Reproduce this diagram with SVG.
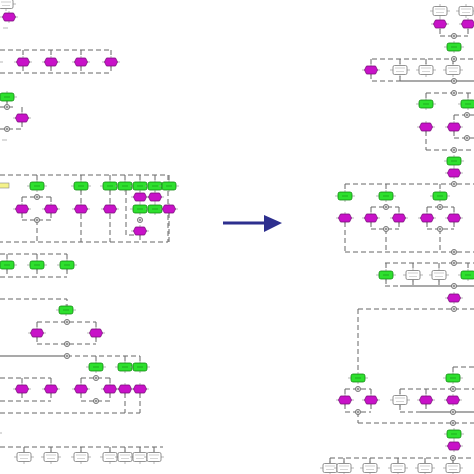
<svg xmlns="http://www.w3.org/2000/svg" width="474" height="474" viewBox="0 0 474 474">
<style>
.d{fill:none;stroke:#666;stroke-width:1;stroke-dasharray:5 3}
.s{fill:none;stroke:#555;stroke-width:1.2}
.st{stroke:#999;stroke-width:0.7}
</style>
<defs>
<g id="ev">
<line class="st" x1="-9" y1="0" x2="9" y2="0"/>
<line class="st" x1="0" y1="-6" x2="0" y2="6"/>
<path d="M-6.5,0 L-4.5,-4 L4.5,-4 L6.5,0 L4.5,4 L-4.5,4 Z" fill="#c812c8" stroke="#7a107a" stroke-width="0.8" stroke-linejoin="round"/>
</g>
<g id="fn">
<line class="st" x1="-10" y1="0" x2="10" y2="0"/>
<line class="st" x1="0" y1="-6" x2="0" y2="6"/>
<rect x="-7" y="-4" width="14" height="8" rx="2" fill="#2ee02e" stroke="#138a13" stroke-width="0.8"/>
<line x1="-3" y1="0" x2="3" y2="0" stroke="#137a13" stroke-width="0.5"/>
</g>
<g id="tk">
<line class="st" x1="-10" y1="0" x2="10" y2="0"/>
<line class="st" x1="0" y1="-7" x2="0" y2="7"/>
<rect x="-7" y="-4.5" width="14" height="9" rx="1.5" fill="#fff" stroke="#777" stroke-width="0.8"/>
<line x1="-5" y1="-2" x2="5" y2="-2" stroke="#999" stroke-width="0.5"/>
<line x1="-4" y1="1.5" x2="4" y2="1.5" stroke="#aaa" stroke-width="0.5"/>
</g>
<g id="cn">
<circle r="2.6" fill="#ddd" stroke="#666" stroke-width="0.8"/>
<circle r="0.9" fill="#777"/>
</g>
<g id="yb">
<rect x="-5" y="-2.5" width="10" height="5" fill="#f4f28a" stroke="#888" stroke-width="0.6"/>
</g>
</defs>
<rect width="474" height="474" fill="#fff"/>

<g id="connectors">
<!-- left top -->
<line class="st" x1="3" y1="28" x2="8" y2="28"/>
<path class="d" d="M0,50 H111 M23,50 V58 M51,50 V58 M81,50 V58 M111,50 V58 M0,73 H111 M23,66 V73 M51,66 V73 M81,66 V73 M111,66 V73"/>
<line class="st" x1="0" y1="62" x2="3" y2="62"/>
<path class="d" d="M0,107 H15 M7,101 V104 M22,107 V114 M0,129 H22 M22,122 V129"/>
<line class="st" x1="2" y1="140" x2="7" y2="140"/>
<!-- left middle block -->
<path class="d" d="M0,175 H168 V242 H0 M37,175 V182 M81,175 V182 M110,175 V182 M125,175 V182 M140,175 V182 M155,175 V182 M169,175 V182"/>
<path class="d" d="M22,197 H51 M22,197 V205 M51,197 V205 M22,220 H51 M22,213 V220 M51,213 V220 M37,220 V242 M81,190 V242 M110,190 V242 M126,190 V235 H134 M169,213 V242 M140,235 V242"/>
<path class="d" d="M0,254 H67 M7,254 V261 M37,254 V261 M67,254 V261 M0,277 H67 M7,269 V277 M37,269 V277 M67,269 V277"/>
<path class="d" d="M0,299 H67 V306 M37,322 H96 M37,322 V329 M96,322 V329 M37,344 H96 M37,337 V344 M96,337 V344"/>
<path class="s" d="M0,356 H67"/>
<path class="d" d="M67,356 H140 M96,356 V363 M125,356 V363 M140,356 V363"/>
<path class="d" d="M0,378 H51 M22,378 V385 M51,378 V385 M81,378 H110 M81,378 V385 M110,378 V385 M0,401 H51 M22,393 V401 M51,393 V401 M81,401 H110 M81,393 V401 M110,393 V401 M0,413 H140 M125,393 V413 M140,393 V413"/>
<line class="st" x1="0" y1="433" x2="2" y2="433"/>
<path class="d" d="M0,447 H163 M24,447 V452 M51,447 V452 M81,447 V452 M110,447 V452 M125,447 V452 M140,447 V452 M154,447 V452"/>
<!-- right -->
<path class="d" d="M440,36 H468 M440,29 V36 M468,29 V36"/>
<path class="d" d="M372,59 H474 M371,59 V66 M400,59 V66 M426,59 V66 M453,59 V66"/>
<path class="s" d="M400,81 H474"/>
<path class="d" d="M372,81 H400 M371,74 V81 M400,76 V81"/>
<path class="d" d="M426,93 H474 M426,93 V100 M468,93 V100 M454,115 H474 M454,115 V123 M454,138 H474 M454,131 V138 M426,131 V150 M426,150 H474"/>
<path class="d" d="M345,184 H474 M345,184 V192 M386,184 V192 M440,184 V192 M371,207 H399 M371,207 V214 M399,207 V214 M427,207 H454 M427,207 V214 M454,207 V214 M371,229 H399 M371,222 V229 M399,222 V229 M427,229 H454 M427,222 V229 M454,222 V229 M345,222 V252 M386,229 V252 M440,229 V252 M345,252 H474"/>
<path class="d" d="M385,263 H474 M386,263 V271 M413,263 V270 M439,263 V270 M468,263 V271"/>
<path class="s" d="M400,286 H474"/>
<path class="d" d="M385,286 H400 M386,279 V286 M413,280 V286 M439,280 V286"/>
<path class="d" d="M358,309 H474 M358,309 V373 M453,367 H474 M453,367 V373"/>
<path class="d" d="M345,389 H371 M345,389 V396 M371,389 V396 M400,389 H474 M400,389 V395 M426,389 V396 M345,412 H371 M345,404 V412 M371,404 V412 M358,412 V423 M358,423 H474"/>
<path class="s" d="M420,412 H474"/>
<path class="d" d="M400,412 H420 M400,405 V412 M426,404 V412"/>
<path class="d" d="M330,458 H474 M330,458 V463 M344,458 V463 M370,458 V463 M398,458 V463 M425,458 V463 M453,458 V463"/>
<!-- big arrow -->
<line x1="223" y1="223" x2="268" y2="223" stroke="#2d2f8e" stroke-width="3"/>
<polygon points="264,215 282,223 264,232" fill="#2d2f8e"/>
</g>

<!-- left nodes -->
<g id="L-t1"><use href="#tk" x="6" y="4"/></g>
<g id="L-e1"><use href="#ev" x="9" y="17"/></g>
<g id="L-e2"><use href="#ev" x="23" y="62"/></g>
<g id="L-e3"><use href="#ev" x="51" y="62"/></g>
<g id="L-e4"><use href="#ev" x="81" y="62"/></g>
<g id="L-e5"><use href="#ev" x="111" y="62"/></g>
<g id="L-f1"><use href="#fn" x="7" y="97"/></g>
<g id="L-c1"><use href="#cn" x="7" y="107"/></g>
<g id="L-e6"><use href="#ev" x="22" y="118"/></g>
<g id="L-c2"><use href="#cn" x="7" y="129"/></g>

<g id="L-y1"><use href="#yb" x="4" y="185.5"/></g>
<g id="L-f2"><use href="#fn" x="37" y="186"/></g>
<g id="L-f3"><use href="#fn" x="81" y="186"/></g>
<g id="L-f4"><use href="#fn" x="110" y="186"/></g>
<g id="L-f5"><use href="#fn" x="125" y="186"/></g>
<g id="L-f6"><use href="#fn" x="140" y="186"/></g>
<g id="L-f7"><use href="#fn" x="155" y="186"/></g>
<g id="L-f8"><use href="#fn" x="169" y="186"/></g>
<g id="L-c3"><use href="#cn" x="37" y="197"/></g>
<g id="L-e7"><use href="#ev" x="140" y="197"/></g>
<g id="L-e8"><use href="#ev" x="155" y="197"/></g>
<g id="L-e9"><use href="#ev" x="22" y="209"/></g>
<g id="L-e10"><use href="#ev" x="51" y="209"/></g>
<g id="L-e11"><use href="#ev" x="81" y="209"/></g>
<g id="L-e12"><use href="#ev" x="110" y="209"/></g>
<g id="L-f9"><use href="#fn" x="140" y="209"/></g>
<g id="L-f10"><use href="#fn" x="155" y="209"/></g>
<g id="L-e13"><use href="#ev" x="169" y="209"/></g>
<g id="L-c4"><use href="#cn" x="37" y="220"/></g>
<g id="L-c5"><use href="#cn" x="140" y="220"/></g>
<g id="L-e14"><use href="#ev" x="140" y="231"/></g>

<g id="L-f11"><use href="#fn" x="7" y="265"/></g>
<g id="L-f12"><use href="#fn" x="37" y="265"/></g>
<g id="L-f13"><use href="#fn" x="67" y="265"/></g>
<g id="L-f14"><use href="#fn" x="66" y="310"/></g>
<g id="L-c6"><use href="#cn" x="67" y="322"/></g>
<g id="L-e15"><use href="#ev" x="37" y="333"/></g>
<g id="L-e16"><use href="#ev" x="96" y="333"/></g>
<g id="L-c7"><use href="#cn" x="67" y="344"/></g>
<g id="L-c8"><use href="#cn" x="67" y="356"/></g>
<g id="L-f15"><use href="#fn" x="96" y="367"/></g>
<g id="L-f16"><use href="#fn" x="125" y="367"/></g>
<g id="L-f17"><use href="#fn" x="140" y="367"/></g>
<g id="L-c9"><use href="#cn" x="96" y="378"/></g>
<g id="L-e17"><use href="#ev" x="22" y="389"/></g>
<g id="L-e18"><use href="#ev" x="51" y="389"/></g>
<g id="L-e19"><use href="#ev" x="81" y="389"/></g>
<g id="L-e20"><use href="#ev" x="110" y="389"/></g>
<g id="L-e21"><use href="#ev" x="125" y="389"/></g>
<g id="L-e22"><use href="#ev" x="140" y="389"/></g>
<g id="L-c10"><use href="#cn" x="96" y="401"/></g>
<g id="L-t2"><use href="#tk" x="24" y="457"/></g>
<g id="L-t3"><use href="#tk" x="51" y="457"/></g>
<g id="L-t4"><use href="#tk" x="81" y="457"/></g>
<g id="L-t5"><use href="#tk" x="110" y="457"/></g>
<g id="L-t6"><use href="#tk" x="125" y="457"/></g>
<g id="L-t7"><use href="#tk" x="140" y="457"/></g>
<g id="L-t8"><use href="#tk" x="154" y="457"/></g>

<!-- right nodes -->
<g id="R-t1"><use href="#tk" x="440" y="11"/></g>
<g id="R-t2"><use href="#tk" x="466" y="11"/></g>
<g id="R-e1"><use href="#ev" x="440" y="24"/></g>
<g id="R-e2"><use href="#ev" x="468" y="24"/></g>
<g id="R-c1"><use href="#cn" x="454" y="36"/></g>
<g id="R-f1"><use href="#fn" x="454" y="47"/></g>
<g id="R-c2"><use href="#cn" x="454" y="59"/></g>
<g id="R-e3"><use href="#ev" x="371" y="70"/></g>
<g id="R-t3"><use href="#tk" x="400" y="70"/></g>
<g id="R-t4"><use href="#tk" x="426" y="70"/></g>
<g id="R-t5"><use href="#tk" x="453" y="70"/></g>
<g id="R-c3"><use href="#cn" x="454" y="81"/></g>
<g id="R-c4"><use href="#cn" x="454" y="93"/></g>
<g id="R-f2"><use href="#fn" x="426" y="104"/></g>
<g id="R-f3"><use href="#fn" x="468" y="104"/></g>
<g id="R-c5"><use href="#cn" x="467" y="115"/></g>
<g id="R-e4"><use href="#ev" x="426" y="127"/></g>
<g id="R-e5"><use href="#ev" x="454" y="127"/></g>
<g id="R-c6"><use href="#cn" x="467" y="138"/></g>
<g id="R-c7"><use href="#cn" x="454" y="150"/></g>
<g id="R-f4"><use href="#fn" x="454" y="161"/></g>
<g id="R-e6"><use href="#ev" x="454" y="173"/></g>
<g id="R-c8"><use href="#cn" x="454" y="184"/></g>
<g id="R-f5"><use href="#fn" x="345" y="196"/></g>
<g id="R-f6"><use href="#fn" x="386" y="196"/></g>
<g id="R-f7"><use href="#fn" x="440" y="196"/></g>
<g id="R-c9"><use href="#cn" x="386" y="207"/></g>
<g id="R-c10"><use href="#cn" x="440" y="207"/></g>
<g id="R-e7"><use href="#ev" x="345" y="218"/></g>
<g id="R-e8"><use href="#ev" x="371" y="218"/></g>
<g id="R-e9"><use href="#ev" x="399" y="218"/></g>
<g id="R-e10"><use href="#ev" x="427" y="218"/></g>
<g id="R-e11"><use href="#ev" x="454" y="218"/></g>
<g id="R-c11"><use href="#cn" x="386" y="229"/></g>
<g id="R-c12"><use href="#cn" x="440" y="229"/></g>
<g id="R-c13"><use href="#cn" x="454" y="252"/></g>
<g id="R-c14"><use href="#cn" x="454" y="263"/></g>
<g id="R-f8"><use href="#fn" x="386" y="275"/></g>
<g id="R-t6"><use href="#tk" x="413" y="275"/></g>
<g id="R-t7"><use href="#tk" x="439" y="275"/></g>
<g id="R-f9"><use href="#fn" x="468" y="275"/></g>
<g id="R-c15"><use href="#cn" x="454" y="286"/></g>
<g id="R-e12"><use href="#ev" x="454" y="298"/></g>
<g id="R-c16"><use href="#cn" x="454" y="309"/></g>
<g id="R-f10"><use href="#fn" x="358" y="378"/></g>
<g id="R-f11"><use href="#fn" x="453" y="378"/></g>
<g id="R-c17"><use href="#cn" x="358" y="389"/></g>
<g id="R-c18"><use href="#cn" x="453" y="389"/></g>
<g id="R-e13"><use href="#ev" x="345" y="400"/></g>
<g id="R-e14"><use href="#ev" x="371" y="400"/></g>
<g id="R-t8"><use href="#tk" x="400" y="400"/></g>
<g id="R-e15"><use href="#ev" x="426" y="400"/></g>
<g id="R-e16"><use href="#ev" x="453" y="400"/></g>
<g id="R-c19"><use href="#cn" x="358" y="412"/></g>
<g id="R-c20"><use href="#cn" x="453" y="412"/></g>
<g id="R-c21"><use href="#cn" x="453" y="423"/></g>
<g id="R-f12"><use href="#fn" x="454" y="434"/></g>
<g id="R-e17"><use href="#ev" x="454" y="446"/></g>
<g id="R-c22"><use href="#cn" x="453" y="458"/></g>
<g id="R-t9"><use href="#tk" x="330" y="468"/></g>
<g id="R-t10"><use href="#tk" x="344" y="468"/></g>
<g id="R-t11"><use href="#tk" x="370" y="468"/></g>
<g id="R-t12"><use href="#tk" x="398" y="468"/></g>
<g id="R-t13"><use href="#tk" x="425" y="468"/></g>
<g id="R-t14"><use href="#tk" x="453" y="468"/></g>
</svg>
